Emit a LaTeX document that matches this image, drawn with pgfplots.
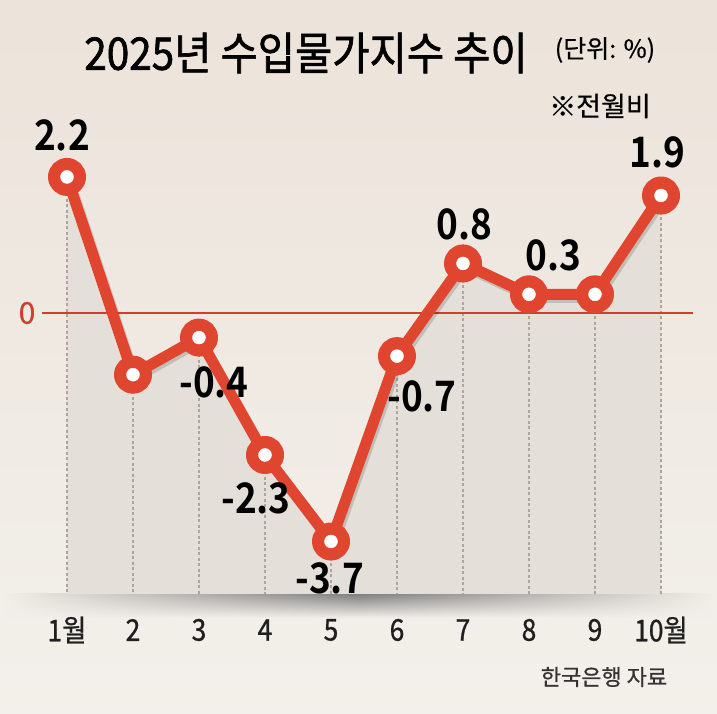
\documentclass[border=0pt]{standalone}
\usepackage{pgfplots}
\pgfplotsset{compat=1.18}
\usepackage{fontspec}
\usetikzlibrary{fadings}
\newfontfamily\kr{Noto Sans CJK KR}[FakeBold=0.6]
\newfontfamily\krt{Noto Sans CJK KR}[FakeStretch=0.9,FakeBold=1.4]
\newfontfamily\krc{Noto Sans CJK KR}[FakeStretch=0.88,FakeBold=0.8]
\newfontfamily\krb{Noto Sans CJK KR Bold}[FakeStretch=0.88]
\definecolor{bgtop}{HTML}{ECE3DA}
\definecolor{bgbot}{HTML}{F3F0EB}
\definecolor{areafill}{HTML}{E4DFD8}
\definecolor{linered}{HTML}{E0462F}
\definecolor{zerored}{HTML}{D13E2B}
\definecolor{dashgray}{HTML}{ABA59E}
\tikzset{lbl/.style={font=\krb\fontsize{42}{44}\selectfont, text=black}}
\tikzfading[name=fade sides, left color=transparent!100, right color=transparent!100, middle color=transparent!0]
\pgfplotstableread{
x y
1 2.2
2 -1.0
3 -0.4
4 -2.3
5 -3.7
6 -0.7
7 0.8
8 0.3
9 0.3
10 1.9
}\data
\begin{document}
\begin{tikzpicture}
\path[use as bounding box] (0,0) rectangle (717pt,714pt);
\shade[top color=bgtop,bottom color=bgbot] (0,0) rectangle (717pt,714pt);
\shade[top color=black!50, bottom color=bgbot, path fading=fade sides] (6pt,96pt) rectangle (712pt,120pt);
\begin{axis}[at={(34pt,120pt)}, anchor=south west, scale only axis,
  width=660pt, height=464pt, xmin=0.5, xmax=10.5, ymin=-4.55, ymax=2.96,
  clip=false, axis line style={draw=none}, major tick length=0pt,
  ytick=\empty, xtick={1,...,10},
  xticklabels={1월,2,3,4,5,6,7,8,9,10월},
  xticklabel style={font=\krc\fontsize{30}{32}\selectfont, anchor=center, yshift=-36pt, text=black!88}]
\addplot[fill=areafill, draw=none] coordinates {(1,-4.55) (1,2.2) (2,-1.0) (3,-0.4) (4,-2.3) (5,-3.7) (6,-0.7) (7,0.8) (8,0.3) (9,0.3) (10,1.9) (10,-4.55)} -- cycle;
\addplot[dashgray, line width=1.5pt, dash pattern=on 3pt off 2.5pt, unbounded coords=jump] coordinates {
(1,2.2) (1,-4.55) (1,nan)
(2,-1.0) (2,-4.55) (2,nan)
(3,-0.4) (3,-4.55) (3,nan)
(4,-2.3) (4,-4.55) (4,nan)
(5,-3.7) (5,-4.55) (5,nan)
(6,-0.7) (6,-4.55) (6,nan)
(7,0.8) (7,-4.55) (7,nan)
(8,0.3) (8,-4.55) (8,nan)
(9,0.3) (9,-4.55) (9,nan)
(10,1.9) (10,-4.55)};
\addplot[zerored, line width=1.5pt] coordinates {(0.621,0) (10.485,0)};
\addplot[black, opacity=0.15, line width=11pt, line join=round, xshift=2pt, yshift=-3pt] table {\data};
\addplot[linered, line width=11pt, line join=round, mark=*, mark size=13.5pt, mark options={fill=linered, draw=none}] table {\data};
\addplot[white, only marks, mark=*, mark size=6.5pt, mark options={fill=white, draw=white}] table {\data};
\node[lbl, xshift=-5pt, yshift=42pt] at (axis cs:1,2.2) {2.2};
\node[lbl, xshift=15pt, yshift=-45pt] at (axis cs:3,-0.4) {-0.4};
\node[lbl, xshift=-9pt, yshift=-43pt] at (axis cs:4,-2.3) {-2.3};
\node[lbl, xshift=-1pt, yshift=-37pt] at (axis cs:5,-3.7) {-3.7};
\node[lbl, xshift=25pt, yshift=-40pt] at (axis cs:6,-0.7) {-0.7};
\node[lbl, xshift=1pt, yshift=39pt] at (axis cs:7,0.8) {0.8};
\node[lbl, xshift=24pt, yshift=39pt] at (axis cs:8,0.3) {0.3};
\node[lbl, xshift=-4pt, yshift=43pt] at (axis cs:10,1.9) {1.9};
\end{axis}
\node[font=\krt\fontsize{45}{48}\selectfont, text=black] at (306pt,661pt) {2025년 수입물가지수 추이};
\node[font=\kr\fontsize{25}{27}\selectfont, text=black] at (605pt,664pt) {(단위: \%)};
\node[font=\kr\fontsize{27}{29}\selectfont, text=black] at (600pt,608pt) {※전월비};
\node[font=\kr\fontsize{22}{24}\selectfont, text=black!80] at (604pt,37pt) {한국은행 자료};
\node[font=\kr\fontsize{30}{32}\selectfont, text=zerored] at (27pt,401pt) {0};
\end{tikzpicture}
\end{document}
